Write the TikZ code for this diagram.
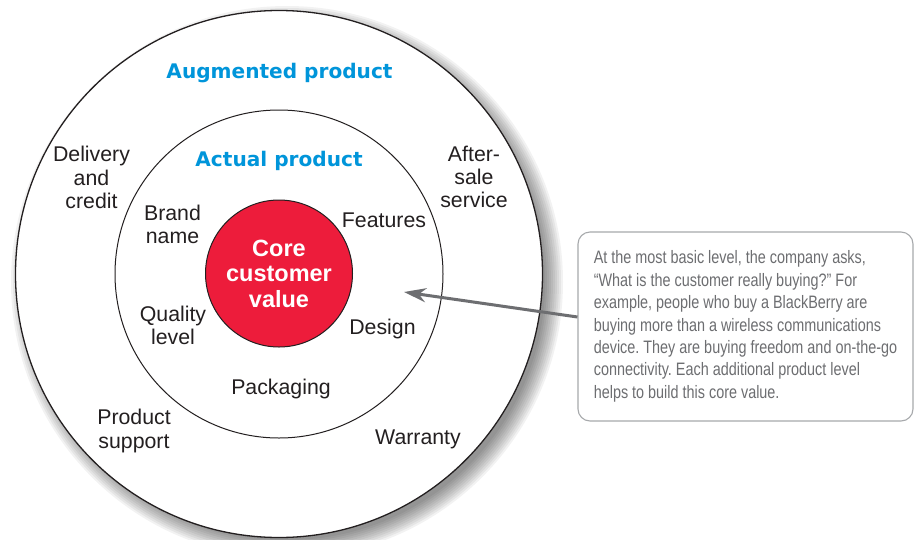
\documentclass[tikz,border=0pt]{standalone}
\usepackage{fontspec}
\setmainfont{Liberation Sans}
\newfontfamily\headfont{DejaVu Sans}
\newfontfamily\notefont[FakeStretch=0.8]{Liberation Sans}
\usetikzlibrary{arrows.meta}
\definecolor{augblue}{HTML}{0095DA}
\definecolor{corered}{HTML}{ED1C3B}
\definecolor{inkgray}{HTML}{231F20}
\definecolor{notegray}{HTML}{6D6E71}
\definecolor{boxgray}{HTML}{A7A9AC}
\frenchspacing
\begin{document}
\begin{tikzpicture}[x=1pt, y=-1pt,
    ring/.style={circle, draw=inkgray, fill=white, inner sep=0pt},
    levelname/.style={font=\headfont\bfseries\fontsize{20.1}{24}\selectfont, text=augblue, inner sep=0pt},
    benefit/.style={align=center, inner sep=0pt, text=inkgray, font=\fontsize{21.3}{23.2}\selectfont},
    notebox/.style={draw=boxgray, line width=1.1pt, rounded corners=12pt, minimum width=335pt,
      minimum height=189pt, inner xsep=15pt, align=left, text=notegray,
      font=\notefont\fontsize{18}{22.4}\selectfont}]
    \useasboundingbox (0,0) rectangle (914,539);
    \fill[white] (0,0) rectangle (914,539);
    % soft shadow under the outer ring
    \foreach \r in {258,260,...,276}
        \fill[black, opacity=0.05] (287,282) circle (\r pt);
    \node[ring, line width=1.3pt, minimum size=527pt] (augmented) at (279,274) {};
    \node[ring, line width=1pt, minimum size=328pt] (actual) at (279,274) {};
    \node[ring, line width=1pt, fill=corered, minimum size=147pt, align=center, text=white,
          font=\bfseries\fontsize{23.5}{25.5}\selectfont] (core) at (279,273.5) {Core\\customer\\value};
    % level names
    \node[levelname] (augname) at (279.5,73.4) {Augmented product};
    \node[levelname] (actname) at (279,161.4) {Actual product};
    % actual product
    \node[benefit] (brand) at (172.5,224) {Brand\\name};
    \node[benefit] (features) at (384,220.3) {Features};
    \node[benefit] (quality) at (173,325) {Quality\\level};
    \node[benefit] (design) at (382.5,329) {Design};
    \node[benefit] (packaging) at (281,389) {Packaging};
    % augmented product
    \node[benefit] (delivery) at (91.5,177.5) {Delivery\\and\\credit};
    \node[benefit] (aftersale) at (474,177) {After-\\sale\\service};
    \node[benefit] (support) at (134,431) {Product\\support};
    \node[benefit] (warranty) at (418,439) {Warranty};
    % note
    \node[notebox] (note) at (745.5,326.5) {At the most basic level, the company asks,\\
        “What is the customer really buying?” For\\
        example, people who buy a BlackBerry are\\
        buying more than a wireless communications\\
        device. They are buying freedom and on-the-go\\
        connectivity. Each additional product level\\
        helps to build this core value.};
    \coordinate (coretip) at (404,292);
    \draw[notegray, line width=3pt, -{Stealth[length=22pt, width=14pt, inset=7pt]}]
        ([yshift=9.5pt]note.west) -- (coretip);
\end{tikzpicture}
\end{document}
